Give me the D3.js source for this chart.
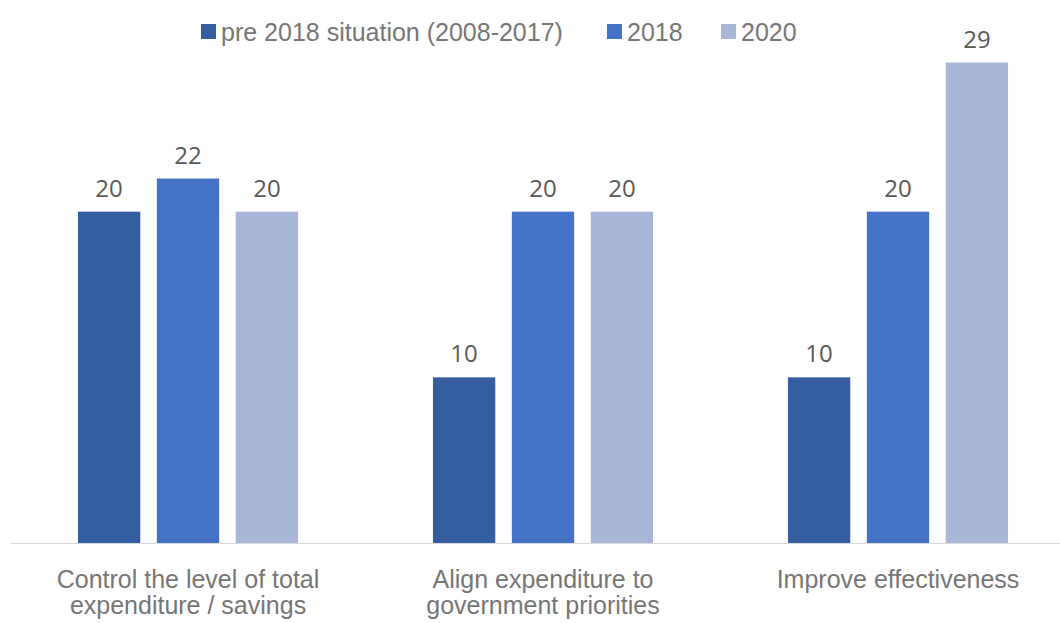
<!DOCTYPE html>
<html>
<head>
<meta charset="utf-8">
<script src="https://cdn.jsdelivr.net/npm/d3@7"></script>
<style>
  body { margin: 0; background: #fff; }
  svg { display: block; }
  .lbl { font-family: 'Liberation Sans', Arial, sans-serif; }
</style>
</head>
<body>
<script>
// chart data
var categories = [
	["Control the level of total", "expenditure / savings"],
	["Align expenditure to", "government priorities"],
	["Improve effectiveness"]
];
var seriesNames = ["pre 2018 situation (2008-2017)", "2018", "2020"];
var pre2018 = [20, 10, 10];
var y2018 = [22, 20, 20];
var y2020 = [20, 20, 29];
var seriesColors = ["#355ea1", "#4472c4", "#a8b6da"];

var width = 1060,
	height = 623;

var allSeries = [pre2018, y2018, y2020];

var svg = d3.select("body").append("svg")
	.attr("width", width)
	.attr("height", height);

var catIdx = d3.range(categories.length);

var x0 = d3.scaleBand()
	.domain(catIdx)
	.range([10.5, 1075.5])
	.paddingInner(0.38)
	.paddingOuter(0.19);

var x1 = d3.scaleBand()
	.domain(d3.range(seriesNames.length))
	.range([0, x0.bandwidth()])
	.paddingInner(0.21);

var y = d3.scaleLinear()
	.domain([0, 30])
	.range([543, 46]);

// baseline
svg.append("line")
	.attr("x1", 11)
	.attr("x2", width)
	.attr("y1", y(0) + 0.5)
	.attr("y2", y(0) + 0.5)
	.attr("stroke", "#d9d9d9")
	.attr("stroke-width", 1);

// bars
var groups = svg.selectAll("g.cat")
	.data(catIdx)
	.enter()
	.append("g")
	.attr("class", "cat")
	.attr("transform", function(c) { return "translate(" + x0(c) + ",0)"; });

groups.selectAll("rect")
	.data(function(c) {
		return allSeries.map(function(s, i) { return {s: i, v: s[c]}; });
	})
	.enter()
	.append("rect")
	.attr("x", function(d) { return x1(d.s); })
	.attr("y", function(d) { return y(d.v); })
	.attr("width", x1.bandwidth())
	.attr("height", function(d) { return y(0) - y(d.v); })
	.attr("fill", function(d) { return seriesColors[d.s]; });

groups.selectAll("text.val")
	.data(function(c) {
		return allSeries.map(function(s, i) { return {s: i, v: s[c]}; });
	})
	.enter()
	.append("text")
	.attr("class", "val")
	.attr("x", function(d) { return x1(d.s) + x1.bandwidth() / 2; })
	.attr("y", function(d) { return y(d.v) - 15; })
	.attr("text-anchor", "middle")
	.style("font-family", "'Open Sans', sans-serif")
	.attr("font-size", 24)
	.attr("fill", "#595959")
	.text(function(d) { return d.v; });

// category labels
var xAxis = d3.axisBottom(x0)
	.tickSize(0)
	.tickFormat("");

var axisG = svg.append("g")
	.attr("transform", "translate(0," + y(0) + ")")
	.call(xAxis);
axisG.select(".domain").remove();

axisG.selectAll(".tick").each(function(c) {
	var t = d3.select(this).append("text")
		.attr("class", "lbl")
		.attr("text-anchor", "middle")
		.attr("font-size", 25)
		.attr("fill", "#767676");
	categories[c].forEach(function(line, i) {
		t.append("tspan")
			.attr("x", 0)
			.attr("y", 45 + i * 26)
			.text(line);
	});
});

// legend
var legendX = [201, 607, 721];
var legend = svg.append("g");
seriesNames.forEach(function(name, i) {
	legend.append("rect")
		.attr("x", legendX[i])
		.attr("y", 24)
		.attr("width", 15)
		.attr("height", 15)
		.attr("fill", seriesColors[i]);
	legend.append("text")
		.attr("class", "lbl")
		.attr("x", legendX[i] + 20)
		.attr("y", 41)
		.attr("font-size", 25)
		.attr("fill", "#767676")
		.text(name);
});
</script>
</body>
</html>
